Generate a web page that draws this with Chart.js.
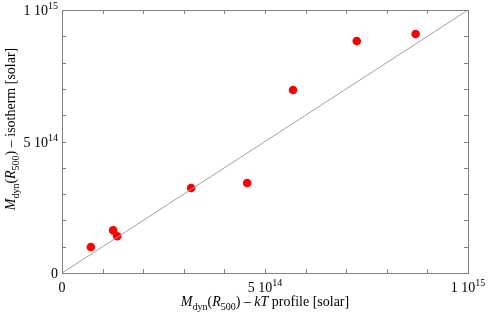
<!DOCTYPE html>
<html>
<head>
<meta charset="utf-8">
<script src="https://cdn.jsdelivr.net/npm/chart.js@4"></script>
<style>
  html, body { margin: 0; padding: 0; background: #fff; }
  #wrap { width: 490px; height: 318px; }
</style>
</head>
<body>
<div id="wrap"><canvas id="massChart"></canvas></div>
<script>
// masses in solar units
const kTMass = [7.1e13, 1.26e14, 1.36e14, 3.18e14, 4.56e14, 5.69e14, 7.26e14, 8.71e14];
const isoMass = [9.9e13, 1.62e14, 1.40e14, 3.23e14, 3.42e14, 6.96e14, 8.82e14, 9.09e14];
const lineEnds = [0, 1e15];

const tickVals = [0, 5e14, 1e15];
const tickMant = ['0', '5 10', '1 10'];
const tickExp = ['', '14', '15'];
const minorStep = 1e14;

const xTitle = [['M', 'i'], ['dyn', 'sub'], ['(', ''], ['R', 'i'], ['500', 'sub'], [') \u2013 ', ''], ['kT', 'i'], [' profile [solar]', '']];
const yTitle = [['M', 'i'], ['dyn', 'sub'], ['(', ''], ['R', 'i'], ['500', 'sub'], [') \u2013 isotherm [solar]', '']];

const SERIF = '"Liberation Serif", "DejaVu Serif", serif';
const frameColor = '#808080';

function fontFor(kind) {
  if (kind === 'i') return 'italic 14px ' + SERIF;
  if (kind === 'sub') return '10px ' + SERIF;
  return '14px ' + SERIF;
}

function richText(ctx, parts, cx, y) {
  let w = 0;
  parts.forEach(p => { ctx.font = fontFor(p[1]); w += ctx.measureText(p[0]).width; });
  let x = cx - w / 2;
  parts.forEach(p => {
    ctx.font = fontFor(p[1]);
    ctx.fillText(p[0], x, p[1] === 'sub' ? y + 4 : y);
    x += ctx.measureText(p[0]).width;
  });
}

function tickLabel(ctx, i, x, y, align) {
  ctx.font = '14px ' + SERIF;
  const mw = ctx.measureText(tickMant[i]).width;
  ctx.font = '10px ' + SERIF;
  const ew = tickExp[i] ? ctx.measureText(tickExp[i]).width : 0;
  const w = mw + ew;
  let x0 = align === 'right' ? x - w : x - w / 2;
  ctx.font = '14px ' + SERIF;
  ctx.fillText(tickMant[i], x0, y);
  if (tickExp[i]) {
    ctx.font = '10px ' + SERIF;
    ctx.fillText(tickExp[i], x0 + mw, y - 6);
  }
}

const framePlugin = {
  id: 'frame',
  afterDraw(chart) {
    const ctx = chart.ctx;
    const a = chart.chartArea;
    const xs = chart.scales.x, ys = chart.scales.y;
    ctx.save();
    ctx.strokeStyle = frameColor;
    ctx.lineWidth = 1;
    ctx.strokeRect(Math.round(a.left) + 0.5, Math.round(a.top) + 0.5,
      Math.round(a.right - a.left), Math.round(a.bottom - a.top));

    ctx.beginPath();
    for (let v = minorStep; v < 1e15 - 1; v += minorStep) {
      const px = Math.round(xs.getPixelForValue(v)) + 0.5;
      ctx.moveTo(px, a.bottom); ctx.lineTo(px, a.bottom - 4);
      ctx.moveTo(px, a.top); ctx.lineTo(px, a.top + 4);
      const py = Math.round(ys.getPixelForValue(v)) + 0.5;
      ctx.moveTo(a.left, py); ctx.lineTo(a.left + 4, py);
      ctx.moveTo(a.right, py); ctx.lineTo(a.right - 4, py);
    }
    ctx.stroke();

    ctx.fillStyle = '#000';
    ctx.textBaseline = 'alphabetic';
    tickVals.forEach((v, i) => {
      tickLabel(ctx, i, xs.getPixelForValue(v), a.bottom + 19, 'center');
      tickLabel(ctx, i, a.left - 4, ys.getPixelForValue(v) + 5, 'right');
    });

    richText(ctx, xTitle, (a.left + a.right) / 2, a.bottom + 33);

    ctx.translate(15, 129);
    ctx.rotate(-Math.PI / 2);
    richText(ctx, yTitle, 0, 0);
    ctx.restore();
  }
};

const ctx = document.getElementById('massChart').getContext('2d');

new Chart(ctx, {
  type: 'scatter',
  data: {
    datasets: [
      {
        type: 'line',
        data: lineEnds.map(v => ({ x: v, y: v })),
        borderColor: '#a0a0a0',
        borderWidth: 1,
        pointRadius: 0,
        fill: false
      },
      {
        data: kTMass.map((x, i) => ({ x: x, y: isoMass[i] })),
        backgroundColor: '#ff0000',
        borderWidth: 0,
        pointRadius: 4.3
      }
    ]
  },
  options: {
    responsive: true,
    maintainAspectRatio: false,
    animation: false,
    layout: {
      padding: { left: 62, right: 22, top: 10, bottom: 45 }
    },
    plugins: {
      legend: { display: false },
      tooltip: { enabled: false }
    },
    scales: {
      x: {
        type: 'linear',
        min: 0,
        max: 1e15,
        display: false
      },
      y: {
        type: 'linear',
        min: 0,
        max: 1e15,
        display: false
      }
    }
  },
  plugins: [framePlugin]
});
</script>
</body>
</html>
